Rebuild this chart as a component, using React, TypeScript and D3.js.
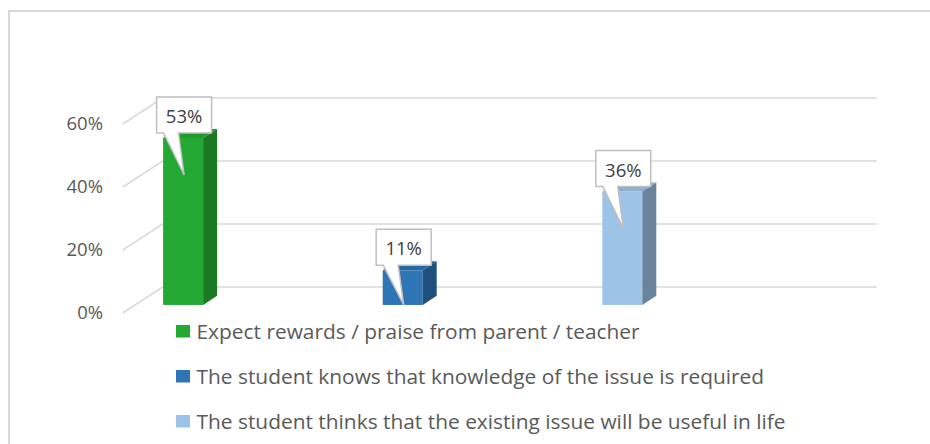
import React from "react";
import * as d3 from "d3";

const series = [
  "Expect rewards / praise from parent / teacher",
  "The student knows that knowledge of the issue is required",
  "The student thinks that the existing issue will be useful in life",
];
const values = [0.53, 0.11, 0.36];
const labels = ["53%", "11%", "36%"];
const ticks = [0, 0.2, 0.4, 0.6];
const frontColors = ["#23a833", "#2e75b6", "#9dc3e6"];
const topColors = ["#1f9a2d", "#2a68a3", "#8db0d0"];
const sideColors = ["#1a7a23", "#1f4f7c", "#6a849e"];

const W = 930;
const H = 444;
// depth projection
const DX = 40;
const DY = -26;
const zFront = 0.31;
const zBack = 0.66;
const barW = 40;
const LEG_SX = 1.045;

export default function App() {
  const y = d3.scaleLinear().domain([0, 0.6]).range([313, 124]);
  const x = d3.scalePoint<string>().domain(series).range([170.7, 609.9]);
  const x0 = 122.7;
  const x1 = 836.7;
  const font = "'Open Sans', sans-serif";
  const proj = (px: number, v: number, z: number): [number, number] => [px + z * DX, y(v) + z * DY];

  return (
    <svg width={W} height={H} style={{ position: "absolute", left: 0, top: 0, background: "#fff" }}>
      <rect x={9} y={11} width={W + 20} height={H + 20} fill="#fff" stroke="#d9d9d9" strokeWidth={2} />
      {ticks.map((t) => {
        const [ax, ay] = proj(x0, t, 0);
        const [bx, by] = proj(x0, t, 1);
        const [cx, cy] = proj(x1, t, 1);
        return (
          <g key={t}>
            <polyline points={`${ax},${ay} ${bx},${by} ${cx},${cy}`} fill="none" stroke="#d9d9d9" strokeWidth={1.5} />
            <text
              x={103}
              y={y(t) + 1.5}
              textAnchor="end"
              dominantBaseline="middle"
              fontFamily={font}
              fontSize={18.5}
              fill="#595959"
            >
              {d3.format(".0%")(t)}
            </text>
          </g>
        );
      })}
      {series.map((s, i) => {
        const cx = x(s)!;
        const xl = cx - barW / 2;
        const xr = cx + barW / 2;
        const v = values[i];
        const [fl, ft] = proj(xl, v, zFront);
        const [fr] = proj(xr, v, zFront);
        const [, fb] = proj(xl, 0, zFront);
        const ddx = (zBack - zFront) * DX;
        const ddy = (zBack - zFront) * DY;
        const top = `${fl},${ft} ${fr},${ft} ${fr + ddx},${ft + ddy} ${fl + ddx},${ft + ddy}`;
        const side = `${fr},${ft} ${fr + ddx},${ft + ddy} ${fr + ddx},${fb + ddy} ${fr},${fb}`;
        const bcx = (fl + fr) / 2 + 1;
        const bw = 55;
        const bh = 36;
        const bb = ft - 5;
        const bt = bb - bh;
        const bL = bcx - bw / 2;
        const tipX = bcx;
        const tipY = Math.min(ft + 37, fb);
        const path = `M${bL},${bt} H${bL + bw} V${bb} H${bL + 22} L${tipX},${tipY} L${bL + 7},${bb} H${bL} Z`;
        return (
          <g key={s}>
            <rect x={fl} y={ft} width={fr - fl} height={fb - ft} fill={frontColors[i]} />
            <polygon points={top} fill={topColors[i]} />
            <polygon points={side} fill={sideColors[i]} />
            <path d={path} fill="#fff" stroke="#bfbfbf" strokeWidth={1.5} />
            <text x={bcx} y={bt + 26} textAnchor="middle" fontFamily={font} fontSize={18.5} fill="#404040">
              {labels[i]}
            </text>
          </g>
        );
      })}
      {series.map((s, i) => (
        <g key={"lg" + i} transform={`translate(176, ${331 + i * 45})`}>
          <rect x={0} y={-6} width={14} height={12.5} fill={frontColors[i]} />
          <text
            transform={`translate(20.5, 7.5) scale(${LEG_SX},1)`}
            fontFamily={font}
            fontSize={20}
            fill="#595959"
          >
            {s}
          </text>
        </g>
      ))}
    </svg>
  );
}
